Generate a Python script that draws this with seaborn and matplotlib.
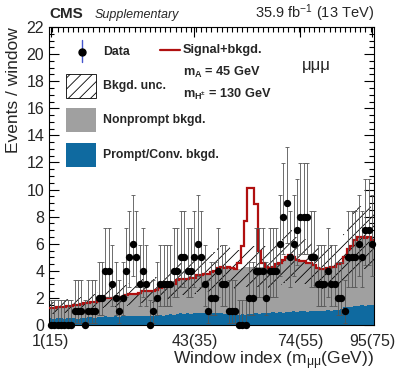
import numpy as np
import matplotlib
matplotlib.use("Agg")
import matplotlib.pyplot as plt
import seaborn as sns
from matplotlib.patches import Rectangle
from matplotlib.ticker import MultipleLocator, FixedLocator

# observed events per window (bins 1..95)
data_counts = [0, 0, 0, 0, 0, 0, 0, 1, 1, 1, 0, 1, 1, 1, 2, 2, 4, 4, 3, 2,
               1, 2, 4, 5, 6, 5, 3, 4, 3, 0, 1, 2, 3, 3, 3, 3, 4, 4, 5, 5,
               4, 4, 5, 6, 5, 3, 1, 2, 2, 4, 3, 3, 1, 1, 1, 0, 0, 0, 2, 2,
               4, 4, 4, 2, 4, 4, 4, 6, 8, 9, 5, 6, 7, 8, 8, 8, 5, 5, 3, 3,
               3, 4, 3, 3, 2, 2, 1, 5, 5, 5, 6, 5, 7, 7, 6]

# total background (prompt + nonprompt)
total_bkg = [1.25, 1.25, 1.3, 1.3, 1.35, 1.4, 1.4, 1.5, 1.5, 1.55, 1.6, 1.6,
             1.7, 1.7, 1.8, 1.9, 2.0, 2.0, 2.0, 2.0, 2.1, 2.1, 2.2, 2.3, 2.3,
             2.3, 2.4, 2.5, 2.5, 2.5, 2.5, 2.6, 2.7, 2.8, 2.9, 3.0, 3.0, 3.3,
             3.4, 3.4, 3.4, 3.5, 3.5, 3.7, 3.7, 3.8, 3.8, 3.9, 4.0, 4.2, 4.3,
             4.2, 4.3, 4.2, 4.1, 4.1, 4.2, 4.3, 4.3, 4.3, 4.3, 4.3, 4.3, 4.3,
             4.2, 4.3, 4.5, 4.6, 4.8, 5.0, 5.2, 5.0, 4.8, 4.7, 4.7, 4.6, 4.6,
             4.4, 4.2, 4.1, 4.1, 4.2, 4.3, 4.3, 4.5, 4.6, 5.0, 5.6, 5.8, 6.3,
             6.5, 6.5, 6.4, 6.5, 6.3]

# prompt / conversion background
prompt_conv = [0.5, 0.45, 0.5, 0.5, 0.45, 0.5, 0.5, 0.5, 0.45, 0.5, 0.55,
               0.6, 0.6, 0.55, 0.6, 0.6, 0.65, 0.6, 0.6, 0.65,
               0.6, 0.65, 0.65, 0.7, 0.65, 0.7, 0.7, 0.65, 0.7, 0.7,
               0.7, 0.75, 0.75, 0.7, 0.75, 0.8, 0.75, 0.8, 0.85, 0.8,
               0.85, 0.8, 0.85, 0.9, 0.85, 0.85, 0.9, 0.85, 0.9, 0.85,
               0.85, 0.8, 0.8, 0.75, 0.8, 0.75, 0.8, 0.75, 0.8, 0.8,
               0.85, 0.8, 0.85, 0.9, 0.9, 0.95, 0.9, 0.95, 0.9, 0.95,
               0.95, 1.0, 0.95, 1.0, 1.0, 0.95, 1.0, 1.05, 1.0, 1.05,
               1.05, 1.1, 1.05, 1.1, 1.1, 1.15, 1.3, 1.35, 1.3, 1.4,
               1.4, 1.45, 1.4, 1.5, 1.45]

# signal peak (mA = 45 GeV)
sig_bins = [56, 57, 58, 59, 60, 61, 62, 63]
sig_vals = [0.5, 1.6, 3.4, 5.8, 5.8, 4.6, 1.2, 0.3]

bkg_rel_unc = 0.35

# 68% Poisson (Garwood) intervals for n = 0..10
poisson_lo = [0.0, 0.173, 0.708, 1.367, 2.086, 2.840, 3.620, 4.419, 5.232, 6.057, 6.891]
poisson_hi = [1.841, 3.300, 4.638, 5.918, 7.163, 8.382, 9.584, 10.77, 11.95, 13.11, 14.27]

tick_pos = [1, 43, 74, 95]
tick_labels = ["1(15)", "43(35)", "74(55)", "95(75)"]

sns.set_style("ticks")
plt.rcParams["font.family"] = ["Liberation Sans", "DejaVu Sans"]
plt.rcParams["mathtext.fontset"] = "custom"
plt.rcParams["mathtext.rm"] = "Liberation Sans"
plt.rcParams["mathtext.it"] = "Liberation Sans:italic"
plt.rcParams["mathtext.bf"] = "Liberation Sans:bold"
plt.rcParams["hatch.linewidth"] = 0.6

blue = "#0f6aa0"
grey = "#a0a0a0"
red = "#b01010"

n = len(data_counts)
bins = np.arange(1, n + 1)
edges = np.arange(0.5, n + 1, 1.0)
counts = np.array(data_counts)
tot = np.array(total_bkg)
signal = np.zeros(n)
signal[np.array(sig_bins) - 1] = sig_vals
err_lo = counts - np.array(poisson_lo)[counts]
err_hi = np.array(poisson_hi)[counts] - counts

fig = plt.figure(figsize=(3.99, 3.83), dpi=100)
ax = fig.add_axes([0.1228, 0.1514, 0.8145, 0.7781])

ax.stairs(tot, edges, fill=True, color=grey, lw=0, zorder=1)
ax.stairs(prompt_conv, edges, fill=True, color=blue, lw=0, zorder=2)
ax.stairs(tot * (1 + bkg_rel_unc), edges, baseline=tot * (1 - bkg_rel_unc),
          fill=True, facecolor="none", edgecolor="k", hatch="///", lw=0, zorder=3)
ax.stairs(tot + signal, edges, baseline=None, color=red, lw=1.6, zorder=4)

ax.errorbar(bins, counts, yerr=[err_lo, err_hi], fmt="none", ecolor="#555555",
            elinewidth=0.6, capsize=1.5, capthick=0.6, zorder=5)
sns.scatterplot(x=bins, y=counts, color="k", s=28, linewidth=0, ax=ax,
                zorder=6, clip_on=False, legend=False)

ax.set_xlim(0.5, n + 0.5)
ax.set_ylim(0, 22)
ax.xaxis.set_major_locator(FixedLocator(tick_pos))
ax.set_xticklabels(tick_labels)
ax.xaxis.set_minor_locator(MultipleLocator(1.5))
ax.yaxis.set_major_locator(MultipleLocator(2))
ax.yaxis.set_minor_locator(MultipleLocator(0.5))
ax.tick_params(which="both", direction="in", top=True, right=True, labelsize=11.5,
               color="k", width=0.8)
ax.tick_params(which="major", length=7)
ax.tick_params(which="minor", length=3.5)
ax.tick_params(axis="x", pad=6.5)
for s in ax.spines.values():
    s.set_linewidth(0.8)
    s.set_color("k")

ax.set_ylabel("Events / window", fontsize=12.5, loc="top", labelpad=4)
ax.set_xlabel("Window index (m$_{\\mathrm{μμ}}$(GeV))", fontsize=12.5, loc="right", labelpad=0)

# legend, drawn by hand in axes coordinates
tr = ax.transAxes
ax.plot([0.1015, 0.1015], [0.883, 0.956], color="#4455cc", lw=1, transform=tr, clip_on=False)
ax.plot([0.1015], [0.916], "o", color="k", ms=5, transform=tr)
ax.text(0.166, 0.916, "Data", fontsize=8.8, fontweight="bold", va="center", transform=tr)
ax.add_patch(Rectangle((0.052, 0.762), 0.093, 0.080, facecolor="white", edgecolor="k",
                       hatch="///", lw=0.6, transform=tr, zorder=7))
ax.text(0.166, 0.802, "Bkgd. unc.", fontsize=8.8, fontweight="bold", va="center", transform=tr)
ax.add_patch(Rectangle((0.052, 0.648), 0.093, 0.080, color=grey, lw=0, transform=tr, zorder=7))
ax.text(0.166, 0.688, "Nonprompt bkgd.", fontsize=8.8, fontweight="bold", va="center", transform=tr)
ax.add_patch(Rectangle((0.052, 0.530), 0.093, 0.080, color=blue, lw=0, transform=tr, zorder=7))
ax.text(0.166, 0.570, "Prompt/Conv. bkgd.", fontsize=8.8, fontweight="bold", va="center", transform=tr)

ax.plot([0.3415, 0.403], [0.923, 0.923], color=red, lw=1.6, transform=tr)
ax.text(0.412, 0.923, "Signal+bkgd.", fontsize=9.2, fontweight="bold", va="center", transform=tr)
ax.text(0.412, 0.849, "m$_{\\mathbf{A}}$ = 45 GeV", fontsize=9.2, fontweight="bold", va="center", transform=tr)
ax.text(0.412, 0.772, "m$_{\\mathbf{H^{\\pm}}}$ = 130 GeV", fontsize=9.2, fontweight="bold", va="center", transform=tr)
ax.text(0.8215, 0.872, "μμμ", fontsize=12, ha="center", va="center", transform=tr)

fig.text(0.1228, 0.953, "CMS", fontsize=11, fontweight="bold", va="baseline")
fig.text(0.238, 0.953, "Supplementary", fontsize=9, style="italic", va="baseline")
fig.text(0.9373, 0.953, "35.9 fb$^{-1}$ (13 TeV)", fontsize=10.5, ha="right", va="baseline")

fig.savefig("out.png", dpi=100)
